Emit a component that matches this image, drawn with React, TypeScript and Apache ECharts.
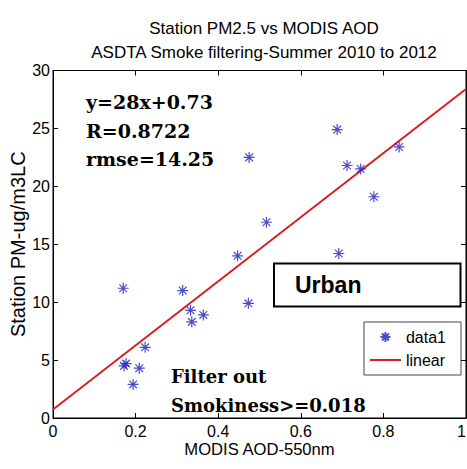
import React, { useEffect, useRef } from "react";
import * as echarts from "echarts";

const aodValues = [0.170, 0.314, 0.333, 0.364, 0.336, 0.473, 0.447, 0.223, 0.177, 0.172, 0.209, 0.194, 0.475, 0.517, 0.688, 0.712, 0.745, 0.838, 0.777, 0.692];
const pmValues = [11.2, 11.0, 9.3, 8.9, 8.3, 9.9, 14.0, 6.1, 4.7, 4.5, 4.3, 2.9, 22.5, 16.9, 24.9, 21.8, 21.5, 23.4, 19.1, 14.2];
const fitX = [0, 1];
const fitY = [0.73, 28.4];
const xTicks = [0, 0.2, 0.4, 0.6, 0.8, 1];
const yTicks = [0, 5, 10, 15, 20, 25, 30];

const statsLines = ["y=28x+0.73", "R=0.8722", "rmse=14.25"];
const filterLines = ["Filter out", "Smokiness>=0.018"];
const boxLabel = "Urban";

const SANS = "Liberation Sans, Arial, sans-serif";
const SERIF = "DejaVu Serif, serif";
const STAR = "path://M5,0L5,10M0,5L10,5M1.5,1.5L8.5,8.5M1.5,8.5L8.5,1.5";
const BLUE = "#1f1fc0";
const RED = "#d81e1e";

export default function App() {
  const ref = useRef<HTMLDivElement>(null);
  useEffect(() => {
    const chart = echarts.init(ref.current!, null, { renderer: "svg" });
    const xMin = xTicks[0], xMax = xTicks[xTicks.length - 1];
    const yMin = yTicks[0], yMax = yTicks[yTicks.length - 1];
    const xAxisBase = {
      type: "value" as const,
      min: xMin,
      max: xMax,
      interval: 0.2,
      splitLine: { show: false },
      axisLine: { show: true, onZero: false, lineStyle: { color: "#000", width: 1 } },
      axisTick: { show: true, inside: true, length: 5, lineStyle: { color: "#000" } },
    };
    const yAxisBase = {
      type: "value" as const,
      min: yMin,
      max: yMax,
      interval: 5,
      splitLine: { show: false },
      axisLine: { show: true, onZero: false, lineStyle: { color: "#000", width: 1 } },
      axisTick: { show: true, inside: true, length: 5, lineStyle: { color: "#000" } },
    };
    chart.setOption({
      animation: false,
      backgroundColor: "#fff",
      title: {
        text: "Station PM2.5 vs MODIS AOD\nASDTA Smoke filtering-Summer 2010 to 2012",
        left: 259,
        textAlign: "center",
        top: 11,
        textStyle: { fontFamily: SANS, fontSize: 17, fontWeight: "normal", lineHeight: 24, color: "#000" },
      },
      grid: { left: 53, right: 1, top: 70.5, bottom: 51, show: true, borderColor: "#000", borderWidth: 1, outerBoundsMode: "none", containLabel: false },
      xAxis: [
        {
          ...xAxisBase,
          position: "bottom",
          name: "MODIS AOD-550nm",
          nameLocation: "middle",
          nameGap: 23,
          nameMoveOverlap: false,
          nameTextStyle: { fontFamily: SANS, fontSize: 16.6, color: "#000" },
          axisLabel: { show: true, margin: 5, fontFamily: SANS, fontSize: 16, color: "#000", alignMaxLabel: "right" },
        },
        { ...xAxisBase, position: "top", axisLabel: { show: false } },
      ],
      yAxis: [
        {
          ...yAxisBase,
          position: "left",
          name: "Station PM-ug/m3LC",
          nameLocation: "middle",
          nameGap: 25,
          nameMoveOverlap: false,
          nameRotate: 90,
          nameTextStyle: { fontFamily: SANS, fontSize: 20, color: "#000" },
          axisLabel: { show: true, margin: 3, fontFamily: SANS, fontSize: 16, color: "#000" },
        },
        { ...yAxisBase, position: "right", axisLabel: { show: false } },
      ],
      legend: {
        orient: "vertical",
        right: 6,
        top: 322,
        padding: [7, 15, 7, 5],
        itemGap: 7,
        itemWidth: 31,
        itemHeight: 10,
        borderColor: "#444",
        borderWidth: 1,
        backgroundColor: "#fff",
        textStyle: { fontFamily: SANS, fontSize: 16, color: "#000" },
        data: [
          { name: "data1", icon: STAR },
          { name: "linear", itemStyle: { color: "transparent", borderColor: "transparent", borderWidth: 0, opacity: 0 }, lineStyle: { color: RED, width: 2 } },
        ],
      },
      series: [
        {
          name: "data1",
          type: "scatter",
          xAxisIndex: 0,
          yAxisIndex: 0,
          symbol: STAR,
          symbolSize: 11,
          symbolKeepAspect: true,
          itemStyle: { color: "transparent", borderColor: BLUE, borderWidth: 1.2 },
          data: aodValues.map((x, i) => [x, pmValues[i]]),
          z: 3,
        },
        {
          name: "linear",
          type: "line",
          xAxisIndex: 0,
          yAxisIndex: 0,
          symbol: "none",
          lineStyle: { color: RED, width: 2 },
          itemStyle: { color: RED },
          data: fitX.map((x, i) => [x, fitY[i]]),
          z: 2,
        },
      ],
      graphic: [
        {
          type: "text",
          left: 86,
          top: 88,
          z: 10,
          style: {
            text: statsLines.join("\n"),
            font: `bold 19px ${SERIF}`,
            lineHeight: 28.5,
            fill: "#000",
          },
        },
        {
          type: "text",
          left: 171,
          top: 362,
          z: 10,
          style: {
            text: filterLines.join("\n"),
            font: `bold 18px ${SERIF}`,
            lineHeight: 28.7,
            fill: "#000",
          },
        },
        {
          type: "rect",
          z: 10,
          shape: { x: 274, y: 263.5, width: 186.5, height: 43 },
          style: { fill: "#fff", stroke: "#000", lineWidth: 2 },
        },
        {
          type: "text",
          left: 295,
          top: 273,
          z: 11,
          style: { text: boxLabel, font: `bold 23px ${SANS}`, fill: "#000" },
        },
      ],
    });
    return () => chart.dispose();
  }, []);
  return <div ref={ref} style={{ position: "fixed", left: 0, top: 0, width: 467, height: 469 }} />;
}
